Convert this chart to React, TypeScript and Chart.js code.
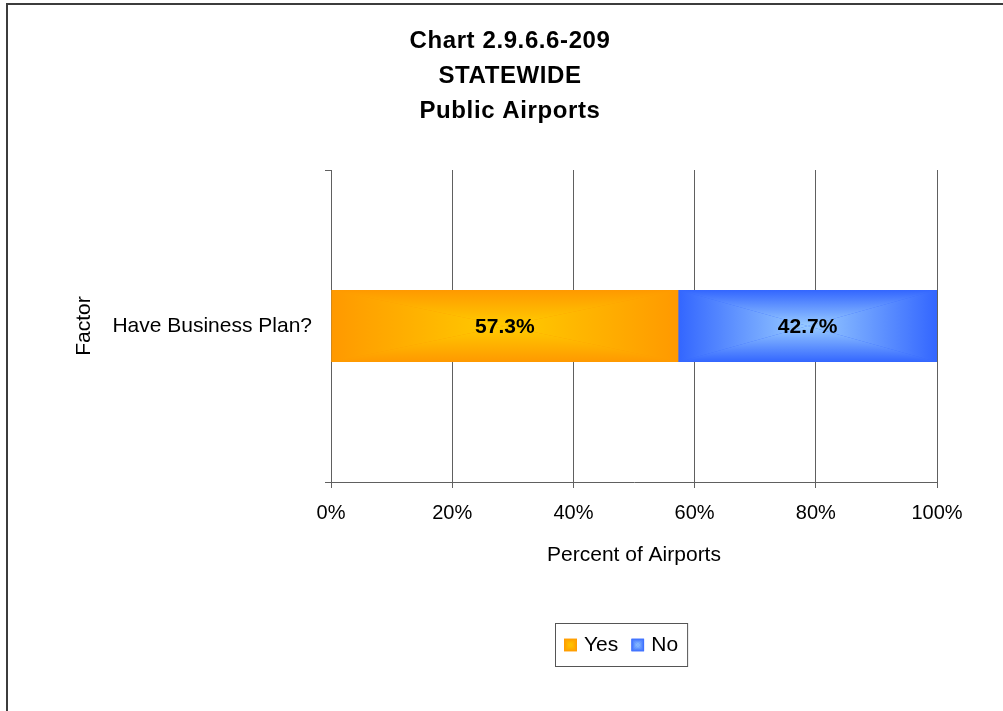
import React, { useEffect, useRef } from 'react';
import { Chart, registerables } from 'chart.js';

Chart.register(...registerables);

// ---- data ----
const titleLines = ['Chart 2.9.6.6-209', 'STATEWIDE', 'Public Airports'];
const categories = ['Have Business Plan?'];
const seriesNames = ['Yes', 'No'];
const yesValues = [57.3];
const noValues = [42.7];
const xTickValues = [0, 20, 40, 60, 80, 100];
const xAxisTitle = 'Percent of Airports';
const yAxisTitle = 'Factor';

// ---- styles ----
const FONT = '"Liberation Sans", Arial, Helvetica, sans-serif';
const EDGE = ['#FF9900', '#3366FF'];
const CENTER = ['#FFCC00', '#99CCFF'];
const GRID = '#606060';

function fillRectGradient(ctx: CanvasRenderingContext2D, x0: number, y0: number, x1: number, y1: number, edge: string, center: string) {
  const cx = (x0 + x1) / 2;
  const cy = (y0 + y1) / 2;
  ctx.save();
  ctx.beginPath();
  ctx.rect(x0, y0, x1 - x0, y1 - y0);
  ctx.clip();
  ctx.fillStyle = edge;
  ctx.fillRect(x0, y0, x1 - x0, y1 - y0);
  const tri = (pts: number[][], g: CanvasGradient) => {
    ctx.beginPath();
    ctx.moveTo(pts[0][0], pts[0][1]);
    for (let i = 1; i < pts.length; i++) ctx.lineTo(pts[i][0], pts[i][1]);
    ctx.closePath();
    ctx.fillStyle = g;
    ctx.fill();
  };
  const mk = (ax: number, ay: number, bx: number, by: number) => {
    const g = ctx.createLinearGradient(ax, ay, bx, by);
    g.addColorStop(0, edge);
    g.addColorStop(1, center);
    return g;
  };
  // left / right (horizontal gradients)
  tri([[x0, y0], [cx, cy], [x0, y1]], mk(x0, 0, cx, 0));
  tri([[x1, y0], [cx, cy], [x1, y1]], mk(x1, 0, cx, 0));
  // top / bottom (vertical gradients)
  tri([[x0, y0], [x1, y0], [cx, cy]], mk(0, y0, 0, cy));
  tri([[x0, y1], [x1, y1], [cx, cy]], mk(0, y1, 0, cy));
  ctx.restore();
}

const decorPlugin = {
  id: 'decor',
  afterDatasetDraw(chart: any, args: any) {
    const ctx = chart.ctx as CanvasRenderingContext2D;
    const i = args.index;
    args.meta.data.forEach((el: any) => {
      const p = el.getProps(['x', 'base', 'y', 'height'], true);
      const left = Math.min(p.x, p.base);
      const right = Math.max(p.x, p.base);
      fillRectGradient(ctx, left, p.y - p.height / 2, right, p.y + p.height / 2, EDGE[i], CENTER[i]);
    });
  },
  afterDatasetsDraw(chart: any) {
    const ctx = chart.ctx as CanvasRenderingContext2D;
    ctx.save();
    ctx.font = `bold 21px ${FONT}`;
    ctx.fillStyle = '#000';
    ctx.textAlign = 'center';
    ctx.textBaseline = 'middle';
    chart.data.datasets.forEach((ds: any, di: number) => {
      const meta = chart.getDatasetMeta(di);
      meta.data.forEach((el: any, j: number) => {
        const p = el.getProps(['x', 'base', 'y'], true);
        ctx.fillText(`${Number(ds.data[j]).toFixed(1)}%`, (p.x + p.base) / 2, p.y + 1);
      });
    });
    ctx.restore();
  },
  afterDraw(chart: any) {
    const ctx = chart.ctx as CanvasRenderingContext2D;
    ctx.save();
    // title
    ctx.fillStyle = '#000';
    ctx.textAlign = 'center';
    ctx.textBaseline = 'middle';
    ctx.font = `bold 24px ${FONT}`;
    try { (ctx as any).letterSpacing = '0.6px'; } catch (e) {}
    titleLines.forEach((t, k) => ctx.fillText(t, 510, 41 + k * 35));
    try { (ctx as any).letterSpacing = '0px'; } catch (e) {}

    // legend
    ctx.font = `21px ${FONT}`;
    const sq = 13;
    const widths = seriesNames.map((n) => ctx.measureText(n).width);
    const contentW = widths.reduce((a, w) => a + sq + 7 + w, 0) + 13 * (seriesNames.length - 1);
    const boxW = contentW + 18;
    const boxH = 43;
    const boxL = Math.round(621.5 - boxW / 2);
    const boxT = 623;
    ctx.strokeStyle = '#555';
    ctx.lineWidth = 1;
    ctx.strokeRect(boxL + 0.5, boxT + 0.5, boxW, boxH);
    let x = boxL + 9;
    const cy = boxT + boxH / 2;
    seriesNames.forEach((n, k) => {
      fillRectGradient(ctx, x, cy - 6, x + sq, cy + 7, EDGE[k], CENTER[k]);
      ctx.fillStyle = '#000';
      ctx.textAlign = 'left';
      ctx.fillText(n, x + sq + 7, cy + 1);
      x += sq + 7 + widths[k] + 13;
    });

    // outer frame
    ctx.fillStyle = '#3c3c3c';
    ctx.fillRect(6, 3, 2, 708);
    ctx.fillRect(6, 3, 997, 2);
    ctx.restore();
  },
};

export default function App() {
  const ref = useRef<HTMLCanvasElement | null>(null);
  useEffect(() => {
    if (!ref.current) return;
    const chart = new Chart(ref.current, {
      type: 'bar',
      data: {
        labels: categories,
        datasets: [
          { label: seriesNames[0], data: yesValues, backgroundColor: EDGE[0], borderWidth: 0, barPercentage: 0.2308, categoryPercentage: 1 },
          { label: seriesNames[1], data: noValues, backgroundColor: EDGE[1], borderWidth: 0, barPercentage: 0.2308, categoryPercentage: 1 },
        ],
      },
      options: {
        indexAxis: 'y',
        responsive: false,
        animation: false,
        devicePixelRatio: 1,
        layout: { padding: { left: 72, top: 170, right: 66, bottom: 143 } },
        plugins: {
          legend: { display: false },
          tooltip: { enabled: false },
          title: { display: false },
        },
        scales: {
          x: {
            type: 'linear',
            min: 0,
            max: 100,
            stacked: true,
            grid: { color: GRID, lineWidth: 1, drawTicks: true, tickLength: 6 },
            border: { display: true, color: GRID, width: 1 },
            ticks: {
              font: { family: FONT, size: 20 },
              color: '#000',
              padding: 13,
              maxRotation: 0,
              callback: (v: any) => `${v}%`,
            },
            afterBuildTicks: (s: any) => {
              s.ticks = xTickValues.map((v) => ({ value: v }));
            },
            title: {
              display: true,
              text: xAxisTitle,
              font: { family: FONT, size: 21 },
              color: '#000',
              padding: { top: 4, bottom: 0 },
            },
            afterFit: (s: any) => {
              s.height = 86;
            },
          },
          y: {
            type: 'category',
            stacked: true,
            offset: true,
            grid: { offset: true, drawOnChartArea: false, drawTicks: true, tickLength: 6, color: GRID },
            border: { display: true, color: GRID, width: 1 },
            ticks: { font: { family: FONT, size: 21 }, color: '#000', padding: 13 },
            title: {
              display: true,
              text: yAxisTitle,
              font: { family: FONT, size: 21 },
              color: '#000',
              padding: { top: 0, bottom: 0 },
            },
            afterFit: (s: any) => {
              s.width = 259;
            },
          },
        },
      } as any,
      plugins: [decorPlugin],
    });
    return () => chart.destroy();
  }, []);
  return (
    <div style={{ position: 'absolute', left: 0, top: 0, width: 1003, height: 711, background: '#fff' }}>
      <canvas ref={ref} width={1003} height={711} style={{ display: 'block', width: 1003, height: 711 }} />
    </div>
  );
}
